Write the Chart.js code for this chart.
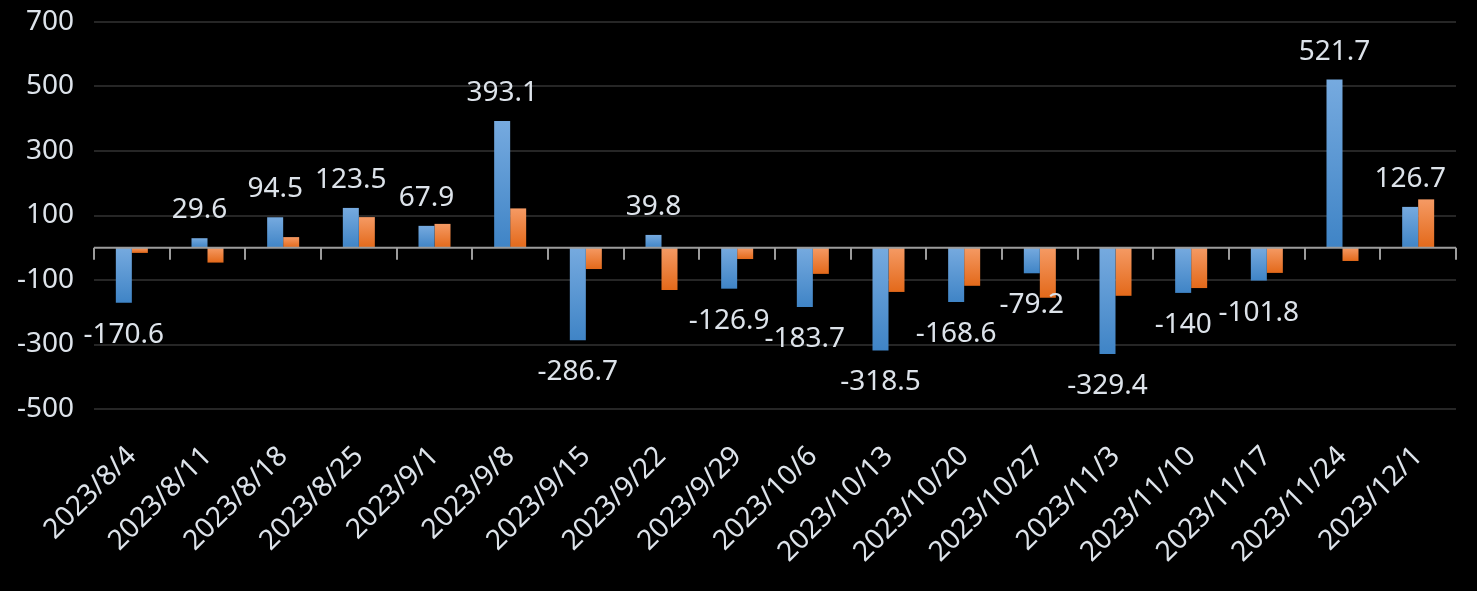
<!DOCTYPE html>
<html>
<head>
<meta charset="utf-8">
<script src="https://cdn.jsdelivr.net/npm/chart.js@4.4.0/dist/chart.umd.min.js"></script>
<style>
    html, body { margin: 0; padding: 0; background: #000; }
    canvas { display: block; }
</style>
</head>
<body>
<canvas id="weeklyChart" width="1477" height="591"></canvas>
<script>
// weekly values
const weekLabels = [
    "2023/8/4", "2023/8/11", "2023/8/18", "2023/8/25", "2023/9/1", "2023/9/8",
    "2023/9/15", "2023/9/22", "2023/9/29", "2023/10/6", "2023/10/13", "2023/10/20",
    "2023/10/27", "2023/11/3", "2023/11/10", "2023/11/17", "2023/11/24", "2023/12/1"
];
const blueValues = [
    -170.6, 29.6, 94.5, 123.5, 67.9, 393.1, -286.7, 39.8, -126.9,
    -183.7, -318.5, -168.6, -79.2, -329.4, -140, -101.8, 521.7, 126.7
];
const orangeValues = [
    -16, -46, 33, 95, 74, 122, -66, -131, -35,
    -81, -137, -118, -155, -149, -125, -78, -41, 150
];
const yMin = -500;
const yMax = 700;
const yStep = 200;

const textColor = '#dde3ea';
const fontFamily = '"Noto Sans", "DejaVu Sans", sans-serif';

// vertical gradient for each bar, light on top and dark at the bottom
function barFill(light, dark) {
    return function(c) {
        if (c.type !== 'data') return dark;
        const ys = c.chart.scales.y;
        const a = ys.getPixelForValue(c.raw);
        const b = ys.getPixelForValue(0);
        const top = Math.min(a, b), bottom = Math.max(a, b);
        if (!isFinite(top) || bottom - top < 1) return dark;
        const g = c.chart.ctx.createLinearGradient(0, top, 0, bottom);
        g.addColorStop(0, light);
        g.addColorStop(1, dark);
        return g;
    };
}

// zero line with category tick marks under it
const zeroAxis = {
    id: 'zeroAxis',
    afterDatasetsDraw(chart) {
        const { ctx, chartArea, scales: { x, y } } = chart;
        const y0 = y.getPixelForValue(0);
        ctx.save();
        ctx.strokeStyle = '#9c9c9c';
        ctx.lineWidth = 2;
        ctx.beginPath();
        ctx.moveTo(chartArea.left, y0);
        ctx.lineTo(chartArea.right, y0);
        for (let i = 0; i <= weekLabels.length; i++) {
            const px = Math.round(x.getPixelForValue(i - 0.5));
            ctx.moveTo(px, y0);
            ctx.lineTo(px, y0 + 12);
        }
        ctx.stroke();
        ctx.restore();
    }
};

// value labels on the blue series
const valueLabels = {
    id: 'valueLabels',
    afterDatasetsDraw(chart) {
        const ctx = chart.ctx;
        const meta = chart.getDatasetMeta(0);
        ctx.save();
        ctx.fillStyle = textColor;
        ctx.font = '28px ' + fontFamily;
        ctx.textAlign = 'center';
        ctx.textBaseline = 'alphabetic';
        meta.data.forEach(function(bar, i) {
            const v = blueValues[i];
            const ty = v >= 0 ? bar.y - 20 : bar.y + 40;
            ctx.fillText(String(v), bar.x, ty);
        });
        ctx.restore();
    }
};

new Chart(document.getElementById('weeklyChart'), {
    type: 'bar',
    data: {
        labels: weekLabels,
        datasets: [
            {
                data: blueValues,
                backgroundColor: barFill('#76aadf', '#3f84c6'),
                categoryPercentage: 0.423,
                barPercentage: 1
            },
            {
                data: orangeValues,
                backgroundColor: barFill('#f59a64', '#e3691a'),
                categoryPercentage: 0.423,
                barPercentage: 1
            }
        ]
    },
    options: {
        responsive: false,
        animation: false,
        devicePixelRatio: 1,
        layout: { padding: { top: 0, right: 21, bottom: 0, left: 0 } },
        plugins: {
            legend: { display: false },
            tooltip: { enabled: false }
        },
        scales: {
            x: {
                grid: { display: false, drawTicks: false },
                border: { display: false },
                ticks: {
                    color: textColor,
                    font: { family: fontFamily, size: 28 },
                    minRotation: 45,
                    maxRotation: 45,
                    autoSkip: false,
                    padding: 31
                },
                afterFit(s) { s.height = 182; }
            },
            y: {
                min: yMin,
                max: yMax,
                ticks: {
                    stepSize: yStep,
                    color: textColor,
                    font: { family: fontFamily, size: 28 },
                    padding: 20
                },
                grid: { color: '#262626', lineWidth: 2, drawTicks: false },
                border: { display: false },
                afterFit(s) {
                    s.width = 94;
                    s.paddingTop = 22;
                    s.paddingBottom = 0;
                }
            }
        }
    },
    plugins: [zeroAxis, valueLabels]
});
</script>
</body>
</html>
